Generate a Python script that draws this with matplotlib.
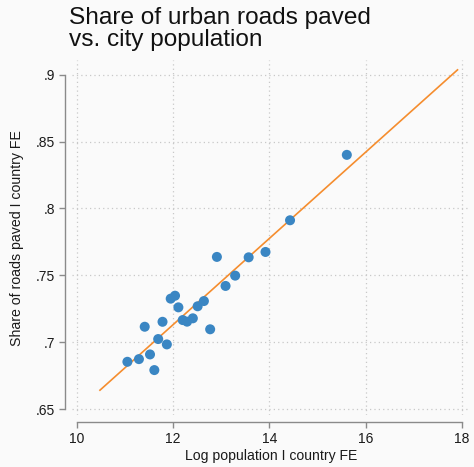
import numpy as np
import matplotlib
matplotlib.use("Agg")
import matplotlib.pyplot as plt

plt.rcParams['font.family'] = ['Liberation Sans', 'DejaVu Sans']

# city-level residuals (log population vs. share of roads paved)
log_pop = [11.05, 11.29, 11.52, 11.61, 11.41, 11.69, 11.87, 11.78, 11.95, 12.04,
           12.11, 12.20, 12.29, 12.41, 12.51, 12.64, 12.77, 12.91, 13.09, 13.29,
           13.57, 13.92, 14.43, 15.61]
share_paved = [0.6854, 0.6874, 0.6909, 0.6792, 0.7116, 0.7024, 0.6984, 0.7153, 0.7326, 0.7348,
               0.7261, 0.7166, 0.7154, 0.7179, 0.7269, 0.7308, 0.7097, 0.7638, 0.7421, 0.7498,
               0.7635, 0.7675, 0.7912, 0.8401]

# fitted line
fit_x = [10.48, 17.91]
fit_slope = 0.03223
fit_intercept = 0.3264

xticks = [10, 12, 14, 16, 18]
yticks = [0.65, 0.70, 0.75, 0.80, 0.85, 0.90]
yticklabels = ['.65', '.7', '.75', '.8', '.85', '.9']

bg = '#fafafa'
fig = plt.figure(figsize=(4.74, 4.67), dpi=100, facecolor=bg)
ax = fig.add_axes([0.152, 0.111, 0.8396, 0.7605], facecolor=bg)

fx = np.array(fit_x)
ax.plot(fx, fit_intercept + fit_slope * fx, color='#f58d2e', lw=1.2, zorder=2)
ax.scatter(log_pop, share_paved, s=52, color='#3a86c3', edgecolors='none', zorder=3)

ax.set_xlim(9.9, 18.17)
ax.set_ylim(0.6455, 0.911)
ax.set_xticks(xticks)
ax.set_yticks(yticks)
ax.set_yticklabels(yticklabels)

ax.grid(True, color='#c8c8c8', linestyle=(0, (1, 2.5)), linewidth=0.9, zorder=0)

for side in ['top', 'right']:
    ax.spines[side].set_visible(False)
ax.spines['left'].set_position(('outward', 5))
ax.spines['bottom'].set_position(('outward', 5))
ax.spines['left'].set_bounds(0.65, 0.9)
ax.spines['bottom'].set_bounds(10, 18)
for side in ['left', 'bottom']:
    ax.spines[side].set_color('#8a8a8a')
    ax.spines[side].set_linewidth(1.0)
ax.tick_params(axis='both', colors='#8a8a8a', labelcolor='#1a1a1a', labelsize=10,
               length=4, width=1.0, pad=3)

ax.set_xlabel('Log population I country FE', fontsize=10.1, color='#1a1a1a', labelpad=2)
ax.set_ylabel('Share of roads paved I country FE', fontsize=10.2, color='#1a1a1a', labelpad=9)

fig.text(0.146, 0.984, 'Share of urban roads paved\nvs. city population',
         fontsize=17.6, color='#111111', ha='left', va='top', linespacing=1.0)

fig.savefig('out.png', dpi=100, facecolor=bg)
